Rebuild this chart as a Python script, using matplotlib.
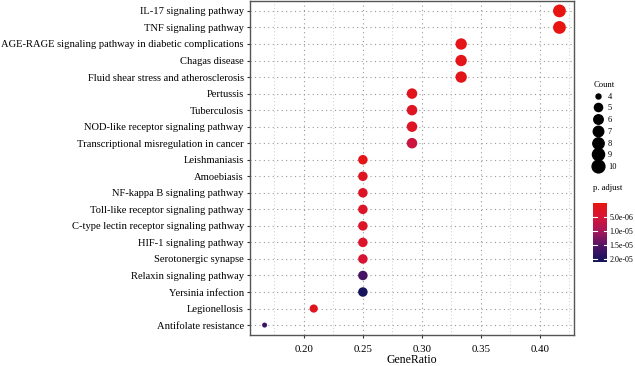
import matplotlib
matplotlib.use("Agg")
import matplotlib.pyplot as plt
import numpy as np
from matplotlib.colors import LinearSegmentedColormap, Normalize
from matplotlib.lines import Line2D
from matplotlib.ticker import MultipleLocator

plt.rcParams['font.family'] = ['Liberation Serif', 'DejaVu Serif']

pathways = [
    "IL-17 signaling pathway",
    "TNF signaling pathway",
    "AGE-RAGE signaling pathway in diabetic complications",
    "Chagas disease",
    "Fluid shear stress and atherosclerosis",
    "Pertussis",
    "Tuberculosis",
    "NOD-like receptor signaling pathway",
    "Transcriptional misregulation in cancer",
    "Leishmaniasis",
    "Amoebiasis",
    "NF-kappa B signaling pathway",
    "Toll-like receptor signaling pathway",
    "C-type lectin receptor signaling pathway",
    "HIF-1 signaling pathway",
    "Serotonergic synapse",
    "Relaxin signaling pathway",
    "Yersinia infection",
    "Legionellosis",
    "Antifolate resistance",
]
gene_ratio = [10/24, 10/24, 8/24, 8/24, 8/24, 7/24, 7/24, 7/24, 7/24,
              6/24, 6/24, 6/24, 6/24, 6/24, 6/24, 6/24, 6/24, 6/24, 5/24, 4/24]
counts = [10, 10, 8, 8, 8, 7, 7, 7, 7, 6, 6, 6, 6, 6, 6, 6, 6, 6, 5, 4]
p_adjust = [2e-7, 3e-7, 1.0e-6, 1.2e-6, 1.3e-6, 1.5e-6, 2.5e-6, 2.6e-6, 6.0e-6,
            1.0e-6, 2.5e-6, 2.8e-6, 3.0e-6, 3.0e-6, 3.5e-6, 4.5e-6,
            1.6e-5, 2.05e-5, 2.0e-6, 1.7e-5]
size_levels = [4, 5, 6, 7, 8, 9, 10]
cbar_ticks = [5e-6, 1e-5, 1.5e-5, 2e-5]
cbar_labels = ["5.0e-06", "1.0e-05", "1.5e-05", "2.0e-05"]

cmap = LinearSegmentedColormap.from_list(
    "padj", [(0.0, "#E8140F"), (0.25, "#D4143A"), (0.5, "#A0155C"),
             (0.75, "#4A1466"), (1.0, "#12145A")])
norm = Normalize(vmin=0.0, vmax=2.1e-5)

def diam_pt(c, dmin=5.0, dmax=12.8):
    # ggplot-like area scaling, diameter in px -> points
    frac = (c - min(size_levels)) / (max(size_levels) - min(size_levels))
    return (dmin + np.sqrt(frac) * (dmax - dmin)) * 0.72

fig = plt.figure(figsize=(6.35, 3.66), dpi=100)
ax = fig.add_axes([250/635, 1 - 335/366, 324/635, 334/366])

n = len(pathways)
ypos = np.arange(n)[::-1]
sizes = [diam_pt(c) ** 2 for c in counts]
ax.scatter(gene_ratio, ypos, s=sizes, c=p_adjust, cmap=cmap, norm=norm,
           edgecolors='none', zorder=3)

ax.set_ylim(-0.6, n - 1 + 0.6)
ax.set_xlim(0.1543, 0.4290)
ax.set_yticks(ypos)
ax.set_yticklabels(pathways, fontsize=7.6)
ax.xaxis.set_minor_locator(MultipleLocator(0.025))
ax.set_xticks([0.20, 0.25, 0.30, 0.35, 0.40])
ax.set_xticklabels(["0.20", "0.25", "0.30", "0.35", "0.40"], fontsize=7.8)
ax.set_xlabel("GeneRatio", fontsize=8.5, labelpad=0.5)

ax.grid(True, which='major', color='#999999', linestyle=(0, (1, 3)), linewidth=0.8)
ax.grid(True, which='minor', axis='x', color='#bbbbbb', linestyle=(0, (1, 3)), linewidth=0.6)
ax.set_axisbelow(True)
ax.tick_params(axis='both', which='major', length=2.5, width=0.8, color='#333333')
ax.tick_params(axis='y', pad=2)
ax.tick_params(axis='x', pad=4.5)
ax.tick_params(axis='x', which='minor', length=0)
for sp in ax.spines.values():
    sp.set_color('#555555')
    sp.set_linewidth(1.0)

# size legend
handles = [Line2D([], [], marker='o', linestyle='none', color='black',
                  markersize=diam_pt(c)) for c in size_levels]
leg = fig.legend(handles, [str(c) for c in size_levels], title="Count",
                 loc='upper left', bbox_to_anchor=(587/635, 1 - 75/366),
                 frameon=False, fontsize=6, title_fontsize=6.2,
                 labelspacing=0.45, handletextpad=0.5, handlelength=1.3,
                 borderpad=0.2)

# colorbar
cax = fig.add_axes([593/635, 1 - 262/366, 14/635, 59/366])
sm = matplotlib.cm.ScalarMappable(norm=norm, cmap=cmap)
cb = fig.colorbar(sm, cax=cax)
cb.outline.set_visible(False)
cax.invert_yaxis()
cb.set_ticks(cbar_ticks)
cb.set_ticklabels(cbar_labels)
cax.tick_params(length=0, labelsize=5.8, pad=2)
for t in cbar_ticks:
    cax.axhline(t, xmin=0, xmax=0.25, color='white', lw=0.8)
    cax.axhline(t, xmin=0.75, xmax=1, color='white', lw=0.8)
fig.text(593/635, 1 - 188/366, "p. adjust", fontsize=6.2, ha='left', va='center')

fig.savefig("out.png", dpi=100)
